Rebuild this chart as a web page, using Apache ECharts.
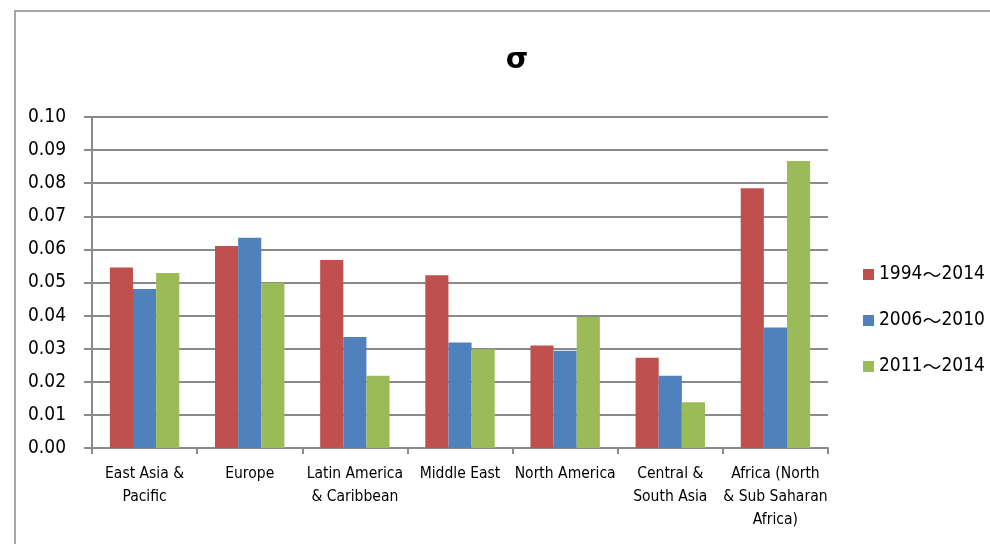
<!DOCTYPE html>
<html>
<head>
<meta charset="utf-8">
<title>σ</title>
<script src="https://cdn.jsdelivr.net/npm/echarts@6/dist/echarts.min.js"></script>
<style>
  html, body { margin: 0; padding: 0; background: #fff; }
  #chart { width: 990px; height: 544px; }
</style>
</head>
<body>
<div id="chart"></div>
<script>
// Regions on the category axis
const regions = [
  'East Asia &\nPacific',
  'Europe',
  'Latin America\n& Caribbean',
  'Middle East',
  'North America',
  'Central &\nSouth Asia',
  'Africa (North\n& Sub Saharan\nAfrica)'
];

// Standard deviation per region for each period
const seriesNames = ['1994～2014', '2006～2010', '2011～2014'];
const values1994to2014 = [0.0545, 0.0610, 0.0568, 0.0522, 0.0310, 0.0273, 0.0785];
const values2006to2010 = [0.0480, 0.0635, 0.0335, 0.0319, 0.0294, 0.0218, 0.0364];
const values2011to2014 = [0.0529, 0.0499, 0.0218, 0.0298, 0.0396, 0.0138, 0.0867];

const colors = ['#C0504D', '#4F81BD', '#9BBB59'];
const FONT = '"DejaVu Sans Condensed", "Liberation Sans Narrow", "Liberation Sans", sans-serif';
const CJK = '"Noto Sans CJK JP", "Noto Sans CJK SC", sans-serif';
const GRID_COLOR = '#8a8a8a';

const chart = echarts.init(document.getElementById('chart'), null, { renderer: 'canvas' });

const dataSets = [values1994to2014, values2006to2010, values2011to2014];

chart.setOption({
  animation: false,
  backgroundColor: '#ffffff',
  color: colors,
  textStyle: { fontFamily: FONT },
  graphic: [{
    type: 'rect',
    shape: { x: 15, y: 11, width: 1000, height: 600 },
    style: { fill: 'none', stroke: '#8a8a8a', lineWidth: 1.5 },
    silent: true,
    z: -1
  }],
  title: {
    text: 'σ',
    left: 512,
    top: 41,
    textAlign: 'center',
    textStyle: { fontFamily: '"DejaVu Sans", "Liberation Sans", sans-serif', fontWeight: 'bold', fontSize: 29, color: '#000' }
  },
  legend: {
    orient: 'vertical',
    left: 858,
    top: 260,
    itemWidth: 11,
    itemHeight: 11,
    itemGap: 27,
    icon: 'rect',
    data: seriesNames,
    formatter: name => name.replace('～', '{w|～}'),
    textStyle: {
      fontFamily: FONT,
      fontSize: 19,
      color: '#000',
      rich: {
        w: { fontFamily: CJK, fontSize: 19, color: '#000' }
      }
    }
  },
  grid: { left: 92, right: 162, top: 117, bottom: 96, containLabel: false },
  xAxis: {
    type: 'category',
    data: regions,
    boundaryGap: true,
    axisLine: { show: true, lineStyle: { color: GRID_COLOR, width: 2 } },
    axisTick: { show: true, length: 6, lineStyle: { color: GRID_COLOR, width: 2 } },
    axisLabel: {
      interval: 0,
      fontFamily: FONT,
      fontSize: 15.5,
      color: '#000',
      lineHeight: 23,
      margin: 14
    }
  },
  yAxis: {
    type: 'value',
    min: 0,
    max: 0.1,
    interval: 0.01,
    axisLine: { show: true, lineStyle: { color: GRID_COLOR, width: 2 } },
    axisTick: { show: true, length: 8, lineStyle: { color: GRID_COLOR, width: 2 } },
    splitLine: { show: true, lineStyle: { color: GRID_COLOR, width: 2 } },
    axisLabel: {
      fontFamily: FONT,
      fontSize: 19,
      color: '#000',
      margin: 26,
      formatter: v => v.toFixed(2)
    }
  },
  series: seriesNames.map((name, i) => ({
    name: name,
    type: 'bar',
    data: dataSets[i],
    barGap: '0%',
    barCategoryGap: '34%',
    itemStyle: { color: colors[i] }
  }))
});
</script>
</body>
</html>
